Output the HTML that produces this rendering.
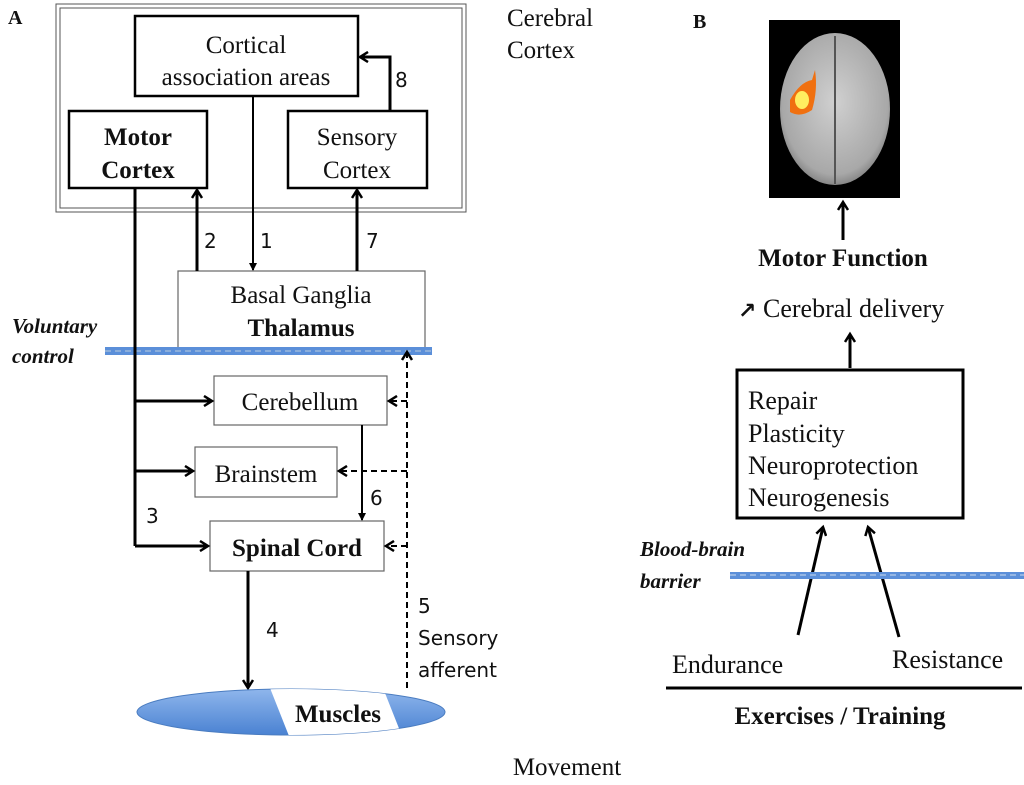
<!DOCTYPE html>
<html><head><style>body{margin:0;background:#fff}svg{display:block}</style></head><body>
<svg width="1024" height="785" xmlns="http://www.w3.org/2000/svg" font-family="Liberation Serif, serif" font-size="25" fill="#111">
<defs>
<marker id="a" markerWidth="8" markerHeight="8" refX="7" refY="4" orient="auto" markerUnits="userSpaceOnUse"><path d="M0,0 L8,4 L0,8 z" fill="#000"/></marker>
<marker id="o" markerWidth="12" markerHeight="12" refX="9" refY="6" orient="auto" markerUnits="userSpaceOnUse"><path d="M1,1 L9,6 L1,11" fill="none" stroke="#000" stroke-width="2.5"/></marker>
<linearGradient id="bl" x1="0" y1="0" x2="0" y2="1"><stop offset="0" stop-color="#8fb6ec"/><stop offset="1" stop-color="#4a82d2"/></linearGradient>
<radialGradient id="br" cx="0.5" cy="0.45" r="0.6"><stop offset="0" stop-color="#d0d0d0"/><stop offset="0.8" stop-color="#a8a8a8"/><stop offset="1" stop-color="#707070"/></radialGradient>
<clipPath id="ec"><ellipse cx="291" cy="712" rx="154" ry="23"/></clipPath>
</defs>
<text x="8" y="24" font-weight="bold" font-size="20">A</text>
<text x="693" y="28" font-weight="bold" font-size="20">B</text>
<rect x="56" y="4" width="410" height="208" fill="none" stroke="#555" stroke-width="1"/>
<rect x="60" y="8" width="402" height="200" fill="none" stroke="#555" stroke-width="1"/>
<text x="507" y="26">Cerebral</text><text x="507" y="58">Cortex</text>
<g fill="#fff" stroke="#000" stroke-width="2.5">
<rect x="135" y="16" width="223" height="80"/>
<rect x="69" y="111" width="138" height="77"/>
<rect x="288" y="111" width="139" height="77"/>
</g>
<g fill="#fff" stroke="#666" stroke-width="1.2">
<rect x="178" y="271" width="247" height="78"/>
<rect x="214" y="376" width="173" height="49"/>
<rect x="195" y="447" width="142" height="50"/>
<rect x="210" y="521" width="174" height="50"/>
</g>
<g text-anchor="middle">
<text x="246" y="53">Cortical</text><text x="246" y="85">association areas</text>
<text x="138" y="145" font-weight="bold">Motor</text><text x="138" y="178" font-weight="bold">Cortex</text>
<text x="357" y="145">Sensory</text><text x="357" y="178">Cortex</text>
<text x="301" y="303">Basal Ganglia</text><text x="301" y="336" font-weight="bold">Thalamus</text>
<text x="300" y="410">Cerebellum</text>
<text x="266" y="482">Brainstem</text>
<text x="297" y="556" font-weight="bold">Spinal Cord</text>
<text x="567" y="775">Movement</text>
</g>
<text x="12" y="333" font-weight="bold" font-style="italic" font-size="21">Voluntary</text>
<text x="12" y="363" font-weight="bold" font-style="italic" font-size="21">control</text>
<rect x="105" y="347" width="327" height="8" fill="#5b8fd9"/>
<line x1="105" y1="351" x2="432" y2="351" stroke="#bcd" stroke-width="1" stroke-dasharray="6,4"/>
<g stroke="#000" stroke-width="3" fill="none">
<polyline points="135,188 135,546"/>
<line x1="135" y1="401" x2="212" y2="401" marker-end="url(#o)"/>
<line x1="135" y1="471" x2="193" y2="471" marker-end="url(#o)"/>
<line x1="135" y1="546" x2="208" y2="546" marker-end="url(#o)"/>
<line x1="197" y1="271" x2="197" y2="190" marker-end="url(#o)"/>
<line x1="357" y1="271" x2="357" y2="190" marker-end="url(#o)"/>
<polyline points="390,111 390,57 360,57" marker-end="url(#o)"/>
<line x1="248" y1="571" x2="248" y2="688" marker-end="url(#o)"/>
</g>
<g stroke="#000" stroke-width="2" fill="none">
<line x1="253" y1="96" x2="253" y2="270" marker-end="url(#a)"/>
<line x1="362" y1="425" x2="362" y2="520" marker-end="url(#a)"/>
</g>
<g stroke="#000" stroke-width="2" fill="none" stroke-dasharray="6,4">
<line x1="407" y1="688" x2="407" y2="352" marker-end="url(#o)"/>
<line x1="407" y1="401" x2="389" y2="401" marker-end="url(#o)"/>
<line x1="407" y1="471" x2="339" y2="471" marker-end="url(#o)"/>
<line x1="407" y1="546" x2="386" y2="546" marker-end="url(#o)"/>
</g>
<g font-family="DejaVu Sans, sans-serif" font-size="20">
<text x="204" y="248">2</text><text x="260" y="248">1</text><text x="366" y="248">7</text>
<text x="395" y="87">8</text><text x="370" y="505">6</text><text x="146" y="523">3</text>
<text x="266" y="637">4</text>
<text x="418" y="613">5</text><text x="418" y="645">Sensory</text><text x="418" y="677">afferent</text>
</g>
<ellipse cx="291" cy="712" rx="154" ry="23" fill="url(#bl)" stroke="#4a7cc0" stroke-width="1"/>
<polygon points="270,688 383,688 402,736 289,736" fill="#fff" clip-path="url(#ec)"/>
<text x="338" y="722" text-anchor="middle" font-weight="bold">Muscles</text>
<rect x="769" y="20" width="131" height="178" fill="#000"/>
<ellipse cx="835" cy="109" rx="55" ry="76" fill="url(#br)"/>
<line x1="835" y1="36" x2="835" y2="184" stroke="#555" stroke-width="2"/>
<path d="M790,100 Q800,82 812,80 L815,70 Q818,90 812,110 Q800,118 790,112 z" fill="#f07010"/>
<ellipse cx="802" cy="100" rx="7" ry="9" fill="#ffee60"/>
<g stroke="#000" stroke-width="3" fill="none">
<line x1="843" y1="240" x2="843" y2="202" marker-end="url(#o)"/>
<line x1="850" y1="368" x2="850" y2="334" marker-end="url(#o)"/>
<line x1="798" y1="635" x2="823" y2="527" marker-end="url(#o)"/>
<line x1="899" y1="637" x2="868" y2="527" marker-end="url(#o)"/>
<line x1="666" y1="688" x2="1022" y2="688"/>
</g>
<text x="843" y="266" text-anchor="middle" font-weight="bold" font-size="25">Motor Function</text>
<text x="738" y="318" font-weight="bold" font-family="DejaVu Sans, sans-serif" font-size="22">↗</text>
<text x="763" y="317" font-size="26">Cerebral delivery</text>
<rect x="737" y="370" width="226" height="148" fill="#fff" stroke="#000" stroke-width="3"/>
<g font-size="26">
<text x="748" y="409">Repair</text><text x="748" y="442">Plasticity</text>
<text x="748" y="474">Neuroprotection</text><text x="748" y="506">Neurogenesis</text>
<text x="672" y="673">Endurance</text>
<text x="892" y="668">Resistance</text>
</g>
<text x="640" y="556" font-weight="bold" font-style="italic" font-size="21">Blood-brain</text>
<text x="640" y="588" font-weight="bold" font-style="italic" font-size="21">barrier</text>
<rect x="730" y="572" width="294" height="7" fill="#5b8fd9"/>
<line x1="730" y1="575" x2="1024" y2="575" stroke="#cde" stroke-width="1" stroke-dasharray="6,4"/>
<text x="840" y="724" text-anchor="middle" font-weight="bold" font-size="25">Exercises / Training</text>
</svg>
</body></html>
